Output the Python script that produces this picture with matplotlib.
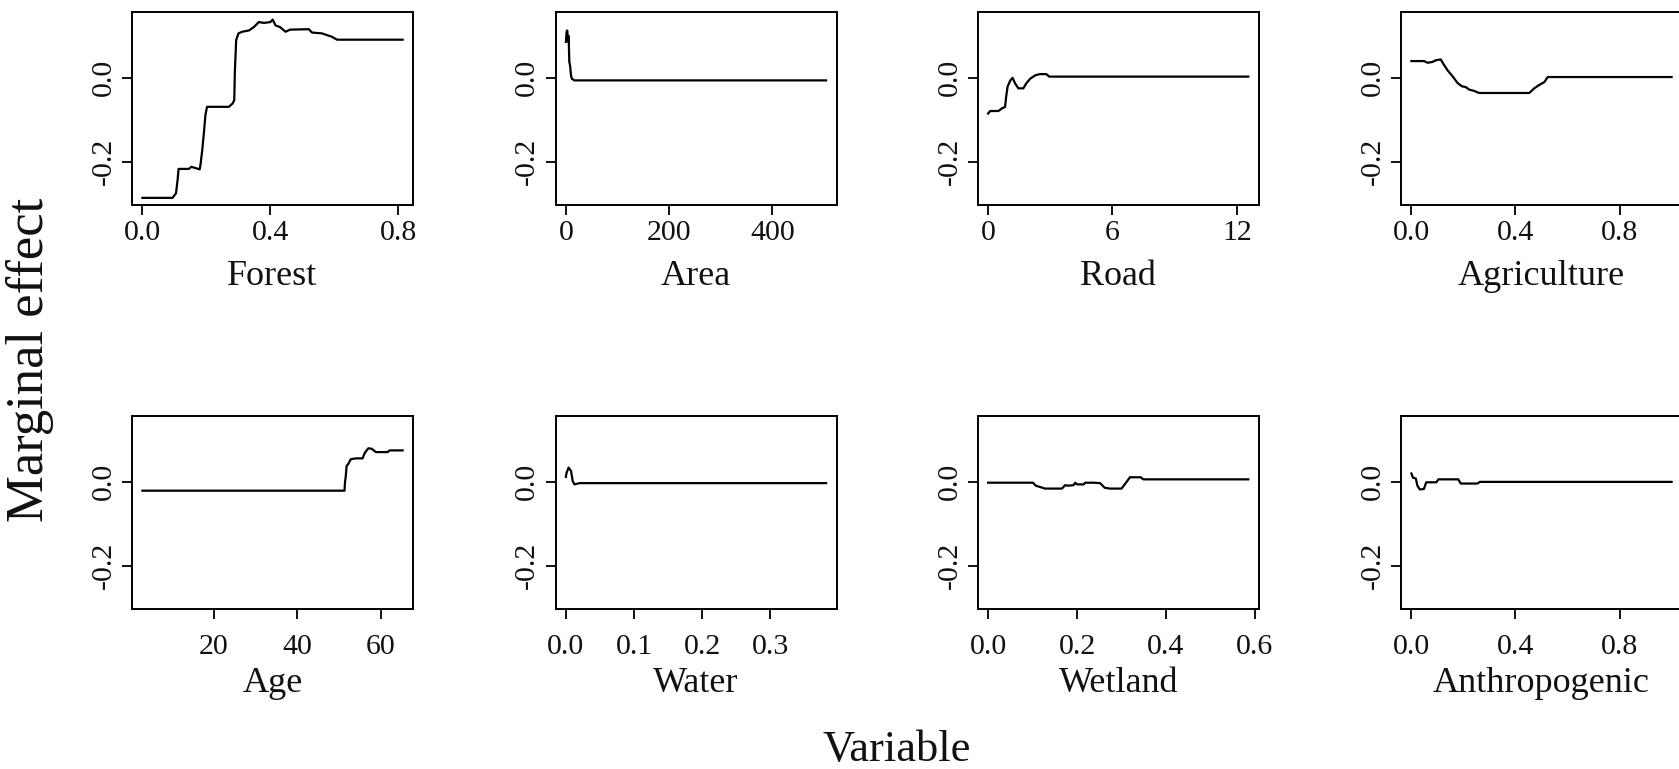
import matplotlib
matplotlib.use("Agg")
import matplotlib.pyplot as plt

plt.rcParams['font.family'] = ['Liberation Serif', 'DejaVu Serif']
plt.rcParams['axes.unicode_minus'] = False

# ---- data ----
forest_x = [0.0, 0.094, 0.105, 0.11, 0.113, 0.145, 0.153, 0.166, 0.179, 0.182, 0.187, 0.192, 0.197, 0.202,
            0.27, 0.282, 0.287, 0.289, 0.293, 0.30, 0.312, 0.333, 0.348, 0.364, 0.38, 0.40, 0.407, 0.416,
            0.43, 0.447, 0.462, 0.52, 0.53, 0.561, 0.592, 0.608, 0.813]
forest_y = [-0.286, -0.286, -0.275, -0.243, -0.217, -0.217, -0.212, -0.215, -0.218, -0.204, -0.172, -0.132,
            -0.088, -0.069, -0.069, -0.061, -0.053, 0.018, 0.09, 0.106, 0.11, 0.113, 0.121, 0.133, 0.131,
            0.133, 0.139, 0.125, 0.121, 0.11, 0.115, 0.116, 0.108, 0.106, 0.098, 0.091, 0.091]

area_x = [0.0, 1.3, 2.6, 4.0, 4.6, 5.3, 6.6, 8.0, 9.9, 11.5, 16.3, 504.0]
area_y = [0.086, 0.11, 0.113, 0.09, 0.086, 0.1, 0.038, 0.03, 0.006, -0.002, -0.006, -0.006]

road_x = [0.0, 0.1, 0.5, 0.66, 0.82, 0.87, 0.94, 1.07, 1.18, 1.3, 1.46, 1.7, 1.84, 2.03, 2.27, 2.5, 2.8,
          2.95, 12.55]
road_y = [-0.085, -0.079, -0.079, -0.073, -0.069, -0.045, -0.021, -0.006, 0.0, -0.013, -0.025, -0.025,
          -0.013, -0.002, 0.006, 0.009, 0.009, 0.003, 0.003]

agri_x = [0.0, 0.049, 0.062, 0.081, 0.094, 0.113, 0.122, 0.139, 0.158, 0.177, 0.194, 0.209, 0.222, 0.241,
          0.26, 0.453, 0.472, 0.491, 0.511, 0.524, 1.0]
agri_y = [0.04, 0.04, 0.036, 0.038, 0.042, 0.044, 0.034, 0.018, 0.004, -0.012, -0.02, -0.022, -0.028,
          -0.031, -0.036, -0.036, -0.025, -0.017, -0.01, 0.002, 0.002]

age_x = [2.9, 51.3, 51.4, 51.6, 51.8, 52.2, 52.8, 54.0, 55.6, 56.2, 57.0, 57.8, 58.8, 61.6, 62.1, 65.2]
age_y = [-0.021, -0.021, -0.002, 0.014, 0.038, 0.043, 0.054, 0.056, 0.056, 0.07, 0.08, 0.079, 0.071,
         0.071, 0.075, 0.075]

water_x = [0.0, 0.001, 0.004, 0.0075, 0.010, 0.0125, 0.020, 0.382]
water_y = [0.012, 0.022, 0.034, 0.026, 0.002, -0.006, -0.003, -0.003]

wetland_x = [0.0, 0.101, 0.107, 0.116, 0.128, 0.166, 0.173, 0.181, 0.192, 0.196, 0.2, 0.215, 0.218,
             0.237, 0.252, 0.262, 0.274, 0.3, 0.31, 0.319, 0.343, 0.349, 0.585]
wetland_y = [-0.002, -0.002, -0.009, -0.012, -0.016, -0.016, -0.008, -0.009, -0.008, -0.002, -0.006,
             -0.006, -0.002, -0.002, -0.003, -0.014, -0.016, -0.016, -0.002, 0.011, 0.011, 0.006, 0.006]

anthro_x = [0.0, 0.006, 0.017, 0.023, 0.032, 0.048, 0.057, 0.096, 0.104, 0.18, 0.19, 0.254, 0.263, 1.0]
anthro_y = [0.02, 0.01, 0.008, -0.009, -0.018, -0.017, -0.001, -0.001, 0.006, 0.006, -0.004, -0.004,
            0.0, 0.0]

names = ["Forest", "Area", "Road", "Agriculture", "Age", "Water", "Wetland", "Anthropogenic"]
xs = [forest_x, area_x, road_x, agri_x, age_x, water_x, wetland_x, anthro_x]
ys = [forest_y, area_y, road_y, agri_y, age_y, water_y, wetland_y, anthro_y]
xticks = [[0.0, 0.4, 0.8], [0, 200, 400], [0, 6, 12], [0.0, 0.4, 0.8],
          [20, 40, 60], [0.0, 0.1, 0.2, 0.3], [0.0, 0.2, 0.4, 0.6], [0.0, 0.4, 0.8]]
xticklabels = [["0.0", "0.4", "0.8"], ["0", "200", "400"], ["0", "6", "12"], ["0.0", "0.4", "0.8"],
               ["20", "40", "60"], ["0.0", "0.1", "0.2", "0.3"], ["0.0", "0.2", "0.4", "0.6"],
               ["0.0", "0.4", "0.8"]]
yticks = [-0.2, 0.0]
yticklabels = ["-0.2", "0.0"]
ylim = (-0.303, 0.157)

# ---- figure ----
W, H = 1679, 769
fig = plt.figure(figsize=(W / 100, H / 100), dpi=100)
col_left = [132, 555.5, 977.7, 1401]
panel_w = 281
row_top = [12, 416]
panel_h = 193
row_xpad = [4, 11]
row_labelpad = [10, 5]

for i in range(8):
    r, c = divmod(i, 4)
    l = col_left[c] / W
    b = 1 - (row_top[r] + panel_h) / H
    ax = fig.add_axes([l, b, panel_w / W, panel_h / H])
    ax.plot(xs[i], ys[i], color="black", lw=1.6)
    ax.margins(x=0.04)
    ax.set_ylim(*ylim)
    ax.set_xticks(xticks[i], labels=xticklabels[i])
    ax.set_yticks(yticks, labels=yticklabels)
    for lab in ax.get_yticklabels():
        lab.set_rotation(90)
        lab.set_va("center")
        lab.set_ha("right")
    ax.tick_params(axis="both", direction="out", length=7, width=1.3, labelsize=21.5, pad=4,
                   color="black", labelcolor="#111111")
    ax.tick_params(axis="x", pad=row_xpad[r])
    for s in ax.spines.values():
        s.set_linewidth(1.4)
        s.set_color("black")
    ax.set_xlabel(names[i], fontsize=26, labelpad=row_labelpad[r], color="#111111")

fig.text(30 / W, 1 - 360 / H, "Marginal effect", rotation=90, ha="center", va="center",
         fontsize=38, color="#111111")
fig.text(897 / W, 1 - 750 / H, "Variable", ha="center", va="center", fontsize=32, color="#111111")

fig.savefig("out.png", dpi=100, facecolor="white")
